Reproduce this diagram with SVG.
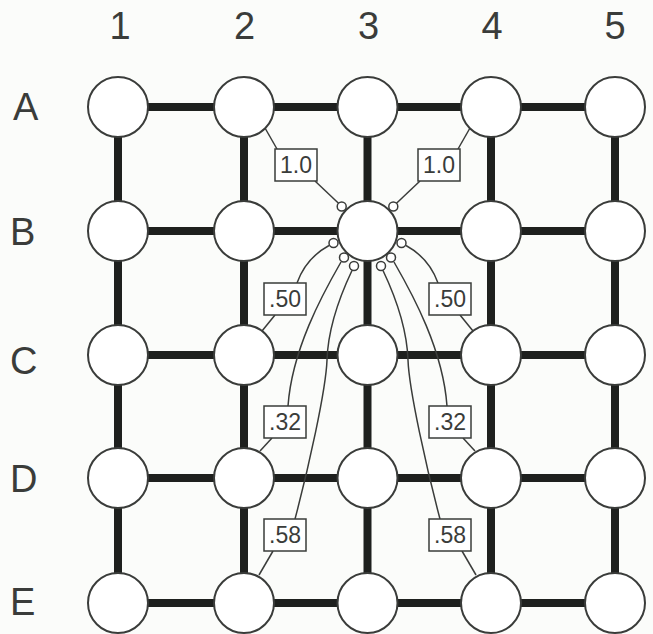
<svg xmlns="http://www.w3.org/2000/svg" width="653" height="634" viewBox="0 0 653 634">
  <style>
    .bg { fill: #fbfcfa; }
    .bar { stroke: #1e201e; stroke-width: 8; fill: none; }
    .node { fill: #ffffff; stroke: #3a3c3a; stroke-width: 2; }
    .port { fill: #ffffff; stroke: #3a3c3a; stroke-width: 1.5; }
    .thin { stroke: #3a3c3a; stroke-width: 1.5; fill: none; }
    .box { fill: #ffffff; stroke: #3a3c3a; stroke-width: 1.5; }
    .lbl { font-family: "Liberation Sans", Arial, sans-serif; font-size: 38px; fill: #3a3c3a; }
    .val { font-family: "Liberation Sans", Arial, sans-serif; font-size: 23px; fill: #3a3c3a; text-anchor: middle; }
  </style>
  <rect class="bg" x="0" y="0" width="653" height="634"/>

  <g id="axis-labels" class="lbl">
    <text x="120" y="39" text-anchor="middle">1</text>
    <text x="244.5" y="39" text-anchor="middle">2</text>
    <text x="368.5" y="39" text-anchor="middle">3</text>
    <text x="492" y="39" text-anchor="middle">4</text>
    <text x="615" y="39" text-anchor="middle">5</text>
    <text x="13" y="120">A</text>
    <text x="10" y="245">B</text>
    <text x="10" y="374">C</text>
    <text x="10" y="492">D</text>
    <text x="10" y="615">E</text>
  </g>

  <g id="connectors">
    <g id="grid-links">
      <line class="bar" x1="118" y1="107" x2="615" y2="107"/>
      <line class="bar" x1="118" y1="231" x2="615" y2="231"/>
      <line class="bar" x1="118" y1="355" x2="615" y2="355"/>
      <line class="bar" x1="118" y1="478" x2="615" y2="478"/>
      <line class="bar" x1="118" y1="603" x2="615" y2="603"/>
      <line class="bar" x1="118" y1="107" x2="118" y2="603"/>
      <line class="bar" x1="244" y1="107" x2="244" y2="603"/>
      <line class="bar" x1="367.5" y1="107" x2="367.5" y2="603"/>
      <line class="bar" x1="491" y1="107" x2="491" y2="603"/>
      <line class="bar" x1="615" y1="107" x2="615" y2="603"/>
    </g>
    <g id="weight-links">
      <!-- left side -->
      <path class="thin" d="M265,128 L277,149"/>
      <path class="thin" d="M315,181 L338.5,203.3"/>
      <path class="thin" d="M329,245.5 Q306,258 297,283"/>
      <path class="thin" d="M275,315 L262,331"/>
      <path class="thin" d="M341,262 C322,295 292,350 288,406"/>
      <path class="thin" d="M272,438 L260,451"/>
      <path class="thin" d="M352,270.5 C338,300 328,330 327,360 S308,470 295,519"/>
      <path class="thin" d="M273,551 L259,575"/>
      <!-- right side -->
      <path class="thin" d="M470,128 L458,149"/>
      <path class="thin" d="M420,181 L396.5,203.3"/>
      <path class="thin" d="M406,245.5 Q429,258 438,283"/>
      <path class="thin" d="M460,315 L473,331"/>
      <path class="thin" d="M394,262 C413,295 443,350 447,406"/>
      <path class="thin" d="M463,438 L475,451"/>
      <path class="thin" d="M383,270.5 C397,300 407,330 408,360 S427,470 440,519"/>
      <path class="thin" d="M462,551 L476,575"/>
    </g>
    <g id="weight-labels">
      <rect class="box" x="275" y="149" width="42" height="32"/>
      <text class="val" x="296" y="173">1.0</text>
      <rect class="box" x="418" y="149" width="42" height="32"/>
      <text class="val" x="439" y="173">1.0</text>
      <rect class="box" x="264" y="283" width="42" height="32"/>
      <text class="val" x="285" y="307">.50</text>
      <rect class="box" x="429" y="283" width="42" height="32"/>
      <text class="val" x="450" y="307">.50</text>
      <rect class="box" x="264" y="406" width="42" height="32"/>
      <text class="val" x="285" y="430">.32</text>
      <rect class="box" x="429" y="406" width="42" height="32"/>
      <text class="val" x="450" y="430">.32</text>
      <rect class="box" x="264" y="519" width="42" height="32"/>
      <text class="val" x="285" y="543">.58</text>
      <rect class="box" x="429" y="519" width="42" height="32"/>
      <text class="val" x="450" y="543">.58</text>
    </g>
  </g>

  <g id="nodes">
    <g id="A1"><circle class="node" cx="118" cy="107" r="30"/></g>
    <g id="A2"><circle class="node" cx="244" cy="107" r="30"/></g>
    <g id="A3"><circle class="node" cx="367.5" cy="107" r="30"/></g>
    <g id="A4"><circle class="node" cx="491" cy="107" r="30"/></g>
    <g id="A5"><circle class="node" cx="615" cy="107" r="30"/></g>
    <g id="B1"><circle class="node" cx="118" cy="231" r="30"/></g>
    <g id="B2"><circle class="node" cx="244" cy="231" r="30"/></g>
    <g id="B3"><circle class="node" cx="367.5" cy="231" r="30"/></g>
    <g id="B4"><circle class="node" cx="491" cy="231" r="30"/></g>
    <g id="B5"><circle class="node" cx="615" cy="231" r="30"/></g>
    <g id="C1"><circle class="node" cx="118" cy="355" r="30"/></g>
    <g id="C2"><circle class="node" cx="244" cy="355" r="30"/></g>
    <g id="C3"><circle class="node" cx="367.5" cy="355" r="30"/></g>
    <g id="C4"><circle class="node" cx="491" cy="355" r="30"/></g>
    <g id="C5"><circle class="node" cx="615" cy="355" r="30"/></g>
    <g id="D1"><circle class="node" cx="118" cy="478" r="30"/></g>
    <g id="D2"><circle class="node" cx="244" cy="478" r="30"/></g>
    <g id="D3"><circle class="node" cx="367.5" cy="478" r="30"/></g>
    <g id="D4"><circle class="node" cx="491" cy="478" r="30"/></g>
    <g id="D5"><circle class="node" cx="615" cy="478" r="30"/></g>
    <g id="E1"><circle class="node" cx="118" cy="603" r="30"/></g>
    <g id="E2"><circle class="node" cx="244" cy="603" r="30"/></g>
    <g id="E3"><circle class="node" cx="367.5" cy="603" r="30"/></g>
    <g id="E4"><circle class="node" cx="491" cy="603" r="30"/></g>
    <g id="E5"><circle class="node" cx="615" cy="603" r="30"/></g>
    <g id="B3-ports">
      <circle class="port" cx="341.7" cy="206.5" r="4.5"/>
      <circle class="port" cx="333.5" cy="243" r="4.5"/>
      <circle class="port" cx="344" cy="257.5" r="4.5"/>
      <circle class="port" cx="354" cy="266" r="4.5"/>
      <circle class="port" cx="393.3" cy="206.5" r="4.5"/>
      <circle class="port" cx="401.5" cy="243" r="4.5"/>
      <circle class="port" cx="391" cy="257.5" r="4.5"/>
      <circle class="port" cx="381" cy="266" r="4.5"/>
    </g>
  </g>
</svg>
